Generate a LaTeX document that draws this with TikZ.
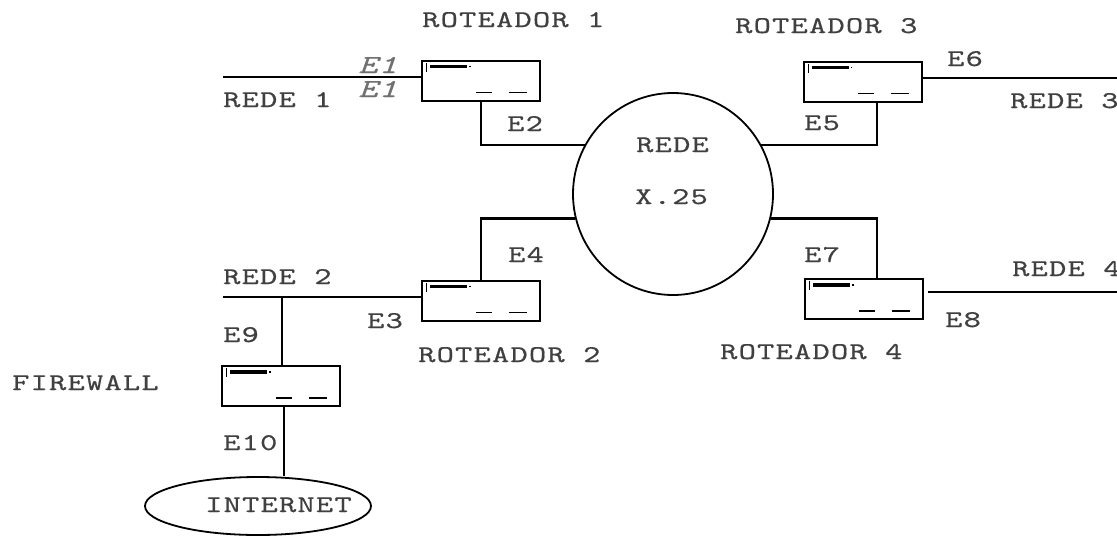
\documentclass[tikz,border=0pt]{standalone}
\usepackage{fontspec}
\usetikzlibrary{shapes.geometric}
\newfontfamily\monolbl[FakeStretch=1.37,LetterSpace=5,FakeBold=0.5]{lmmono10-regular.otf}
\newfontfamily\monoital[FakeStretch=1.4,LetterSpace=4,FakeBold=0.3]{lmmono10-italic.otf}
\definecolor{txtgray}{HTML}{404040}
\tikzset{
  lbl/.style={anchor=base west, inner sep=0pt, text=txtgray, font=\monolbl\fontsize{24}{24}\selectfont},
  itlbl/.style={anchor=base west, inner sep=0pt, text=txtgray!75, font=\monoital\fontsize{26}{26}\selectfont},
  router/.style={draw, line width=2pt, rectangle, minimum width=118pt, minimum height=40pt, inner sep=0pt},
  netline/.style={line width=1.6pt},
  link/.style={line width=2.6pt},
}
\newcommand{\routerdeco}[1]{%
  \draw[line width=3.5pt] ([shift={(9,7)}]#1.north west) -- ++(37,0);
  \fill ([shift={(5,3)}]#1.north west) rectangle ++(1.2,9);
  \fill ([shift={(48,6.4)}]#1.north west) rectangle ++(1.5,1.2);
  \draw[line width=1.6pt] ([shift={(55,33)}]#1.north west) -- ++(16,0);
  \draw[line width=1.6pt] ([shift={(88,33)}]#1.north west) -- ++(18,0);
}
\begin{document}
\begin{tikzpicture}[x=1pt,y=-1pt]
\useasboundingbox (0,0) rectangle (1117,536);
% routers
\node[router] (r1) at (481,80.5) {};
\node[router] (r3) at (862.5,81.5) {};
\node[router] (r2) at (481,300.5) {};
\node[router] (r4) at (864,299) {};
\node[router] (fw) at (281,386) {};
\routerdeco{r1}\routerdeco{r3}\routerdeco{r2}\routerdeco{r4}\routerdeco{fw}
% X.25 cloud
\node[draw, ellipse, line width=1.8pt, minimum width=200pt, minimum height=202pt, inner sep=0pt] (x25) at (673,194) {};
\node[lbl] (t-rede) at (636,152) {REDE};
\node[lbl] (t-x25) at (635,204) {X.25};
% internet
\node[draw, ellipse, line width=1.8pt, minimum width=226pt, minimum height=58pt, inner sep=0pt] (inet) at (258,506) {};
\node[lbl] (t-inet) at (205,512) {INTERNET};
% coordinates for free ends
\coordinate (rede1) at (223,77);
\coordinate (rede2) at (223,297);
\coordinate (rede3) at (1117,78);
\coordinate (rede4s) at (928,292);
\coordinate (rede4e) at (1117,292);
\coordinate (fwj) at (282,297);
% connectors
\draw[netline] (rede1) -- (rede1 -| r1.west);
\draw[link] (r1.south) |- (x25.151);
\draw[link] ([xshift=14.5pt]r3.south) |- (x25.29);
\draw[netline] (r3.east |- rede3) -- (rede3);
\draw[link] (r2.north) |- (x25.194);
\draw[link] ([xshift=13pt]r4.north) |- (x25.-14.5);
\draw[netline] (rede4s) -- (rede4e);
\draw[netline] (rede2) -- (rede2 -| r2.west);
\draw[link] (fwj) -- (fwj |- fw.north);
\draw[link] ([xshift=3pt]fw.south) -- ([xshift=3pt]fw.south |- inet.north);
% labels
\node[lbl] (t-r1) at (422,27) {ROTEADOR 1};
\node[lbl] (t-r3) at (735,33) {ROTEADOR 3};
\node[lbl] (t-r2) at (418,362) {ROTEADOR 2};
\node[lbl] (t-r4) at (720,359) {ROTEADOR 4};
\node[lbl] (t-fw) at (12,390) {FIREWALL};
\node[lbl] (t-rede1) at (223,107) {REDE 1};
\node[lbl] (t-rede2) at (223,284) {REDE 2};
\node[lbl] (t-rede3) at (1010,108) {REDE 3};
\node[lbl] (t-rede4) at (1012,276) {REDE 4};
\node[itlbl] (t-e1a) at (358,73) {E1};
\node[itlbl] (t-e1b) at (358,97) {E1};
\node[lbl] (t-e2) at (507,131) {E2};
\node[lbl] (t-e3) at (367,328) {E3};
\node[lbl] (t-e4) at (508,262) {E4};
\node[lbl] (t-e5) at (804,130) {E5};
\node[lbl] (t-e6) at (947,66) {E6};
\node[lbl] (t-e7) at (804,262) {E7};
\node[lbl] (t-e8) at (945,327) {E8};
\node[lbl] (t-e9) at (223,342) {E9};
\node[lbl] (t-e10) at (223,450) {E10};
\end{tikzpicture}
\end{document}
